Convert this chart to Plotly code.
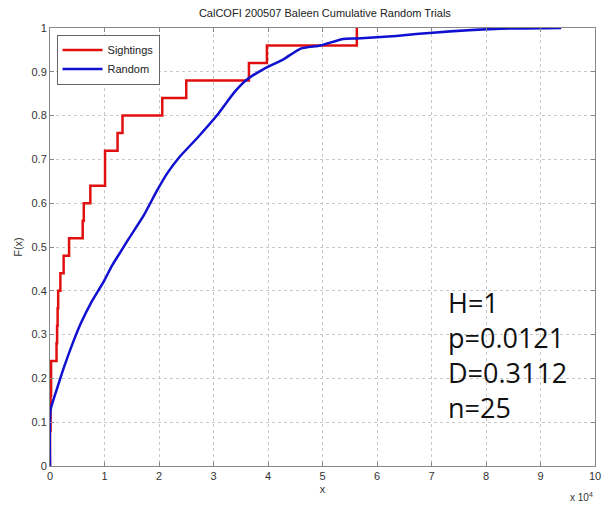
import plotly.graph_objects as go

# Sighting distances (units of 1e4), sorted
sightings = [0.0, 0.0, 0.01, 0.01, 0.02, 0.02, 0.12, 0.13, 0.14, 0.15,
             0.19, 0.25, 0.35, 0.60, 0.62, 0.74, 1.01, 1.01, 1.24, 1.33,
             2.06, 2.50, 3.65, 3.98, 5.63]

random_x = [0.0, 0.01, 0.14, 0.26, 0.44, 0.57, 0.75, 0.99, 1.14, 1.30, 1.44,
            1.72, 1.96, 2.15, 2.38, 2.71, 3.08, 3.38, 3.62, 3.92, 4.29,
            4.60, 4.96, 5.38, 5.63, 6.35, 7.08, 8.17, 9.38]
random_y = [0.0, 0.128, 0.181, 0.227, 0.288, 0.327, 0.372, 0.422, 0.458, 0.490,
            0.518, 0.572, 0.628, 0.668, 0.706, 0.750, 0.803, 0.853, 0.883,
            0.906, 0.929, 0.953, 0.960, 0.975, 0.976, 0.982, 0.990, 0.998, 1.0]

x_ticks = list(range(0, 11))
y_ticks = [round(i * 0.1, 1) for i in range(11)]
y_tick_labels = ["0"] + [f"{v:g}" for v in y_ticks[1:-1]] + ["1"]

stats_text = ["H=1", "p=0.0121", "D=0.3112", "n=25"]

n = len(sightings)
sx = [sightings[0]] + sightings
sy = [0.0] + [(i + 1) / n for i in range(n)]

fig = go.Figure()
fig.add_trace(go.Scatter(x=sx, y=sy, mode="lines", line=dict(color="#e01010", width=2.5, shape="hv"),
                         name="Sightings"))
fig.add_trace(go.Scatter(x=random_x, y=random_y, mode="lines",
                         line=dict(color="#1010d0", width=2.5, shape="spline", smoothing=0.5),
                         name="Random"))

axis_common = dict(showline=True, linecolor="#888888", linewidth=1, mirror="ticks",
                   ticks="inside", ticklen=4, tickcolor="#888888",
                   showgrid=True, gridcolor="#c8c8c8", griddash="dot", gridwidth=1,
                   zeroline=False, tickfont=dict(family="Liberation Sans", size=11, color="#333333"))

fig.update_xaxes(range=[0, 10], tickvals=x_ticks, ticktext=[str(v) for v in x_ticks],
                 title=dict(text="x", font=dict(family="Liberation Sans", size=11, color="#333333"), standoff=4),
                 **axis_common)
fig.update_yaxes(range=[0, 1], tickvals=y_ticks, ticktext=y_tick_labels,
                 title=dict(text="F(x)", font=dict(family="Liberation Sans", size=11, color="#333333"), standoff=6),
                 **axis_common)

fig.update_layout(
    width=613, height=508,
    margin=dict(l=50, r=12, t=28, b=42),
    paper_bgcolor="white", plot_bgcolor="white",
    title=dict(text="CalCOFI 200507 Baleen Cumulative Random Trials", x=0.53, xanchor="center",
               y=0.975, yanchor="middle",
               font=dict(family="Liberation Sans", size=11, color="#222222")),
    legend=dict(x=0.012, y=0.985, xanchor="left", yanchor="top", bgcolor="white",
                bordercolor="#666666", borderwidth=1,
                font=dict(family="Liberation Sans", size=11, color="#222222"),
                tracegroupgap=0, itemwidth=40),
    showlegend=True,
)

fig.add_annotation(x=1.0, y=-0.052, xref="paper", yref="paper", text="x 10<sup>4</sup>",
                   showarrow=False, xanchor="right", yanchor="top",
                   font=dict(family="Liberation Sans", size=10, color="#333333"))

fig.add_annotation(x=0.727, y=0.253, xref="paper", yref="paper",
                   text="<br>".join(stats_text), align="left", showarrow=False,
                   xanchor="left", yanchor="middle",
                   font=dict(family="Open Sans", size=27, color="#111111"))

fig.write_html("out.html")
